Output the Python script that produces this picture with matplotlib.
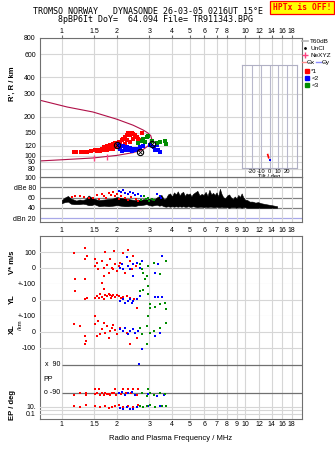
import matplotlib
matplotlib.use('Agg')
import matplotlib.pyplot as plt
from matplotlib.lines import Line2D

plt.rcParams['font.family'] = ['Liberation Sans', 'DejaVu Sans']

W, H = 335, 451

# frequency ticks
top_ticks = [1, 1.5, 2, 3, 4, 5, 6, 7, 8, 10, 12, 14, 16, 18]
mid_ticks = [1, 1.5, 2, 3, 4, 5, 6, 7, 8, 9, 10, 12, 14, 16, 18]

# model trace (virtual / real height), upper branch then back along lower branch
model_f = [0.76, 1.07, 1.48, 2.0, 2.45, 2.78, 2.95, 3.06, 3.10, 3.06, 2.95, 2.78, 2.45, 2.0, 1.48, 1.0, 0.76]
model_r = [267, 237, 217, 191, 172, 158, 150, 143, 134, 126, 119, 112, 106, 101, 96.5, 93.5, 91.6]

# echoes, range panel
r1_f = [1.16, 1.2, 1.27, 1.34, 1.37, 1.52, 1.58, 1.62, 1.65, 1.69, 1.72, 1.76, 1.76, 1.84, 1.91,
        1.91, 1.95, 2.0, 2.04, 2.08, 2.13, 2.13, 2.17, 2.22, 2.22, 2.26, 2.26, 2.31, 2.36, 2.36,
        2.41, 2.44, 2.46, 2.52, 2.57, 2.62, 2.68, 2.73, 1.45, 1.55, 1.7, 1.8, 1.88, 2.02]
r1_r = [107, 108, 108, 108, 107, 111, 112, 110, 114, 118, 116, 119, 112, 121, 123,
        114, 126, 118, 129, 125, 132, 119, 136, 140, 123, 145, 132, 149, 145, 129,
        150, 136, 147, 145, 140, 136, 132, 150, 109, 110, 111, 113, 116, 124]
r2_f = [2.04, 2.08, 2.13, 2.17, 2.22, 2.26, 2.31, 2.36, 2.41, 2.46, 2.52, 2.57, 2.68, 2.79, 3.04, 3.17, 3.24, 3.3, 3.37, 3.45]
r2_r = [121, 114, 110, 119, 112, 118, 111, 116, 110, 114, 111, 114, 118, 119, 121, 118, 112, 121, 111, 108]
r3_f = [2.62, 2.73, 2.79, 2.85, 2.91, 2.97, 3.1, 3.3, 3.45, 3.67, 3.71]
r3_r = [125, 131, 136, 129, 140, 142, 131, 126, 129, 131, 123]
ne_f = [1.5, 1.76]
ne_r = [96, 99]
cen_f = [2.0, 2.68, 3.1]
cen_r = [121, 108, 123]

# amplitude trace
sig_f = [1.0, 1.04, 1.08, 1.12, 1.16, 1.2, 1.25, 1.3, 1.35, 1.4,
         1.45, 1.5, 1.55, 1.6, 1.7, 1.8, 1.9, 2.0, 2.1, 2.2,
         2.3, 2.4, 2.5, 2.6, 2.7, 2.8, 2.9, 3.0, 3.1, 3.2,
         3.3, 3.4, 3.5, 3.6, 3.7, 3.8, 3.9, 4.0, 4.1, 4.2,
         4.3, 4.4, 4.5, 4.6, 4.7, 4.8, 4.9, 5.0, 5.1, 5.2,
         5.35, 5.5, 5.65, 5.8, 5.95, 6.1, 6.25, 6.4, 6.55, 6.7,
         6.85, 7.0, 7.15, 7.3, 7.45, 7.6, 7.8, 8.0, 8.2, 8.4,
         8.6, 8.8, 9.0, 9.2, 9.4, 9.6, 9.8, 10.0, 10.3, 10.6,
         11.0, 11.4, 11.8, 12.2, 12.6, 13.0, 13.5, 14.0, 14.5, 15.0]
sig_top = [55, 60, 63, 58, 56, 54, 56, 55, 57, 64,
           60, 58, 56, 55, 56, 57, 58, 61, 59, 58,
           57, 56, 55, 56, 55, 57, 56, 58, 55, 56,
           60, 63, 65, 57, 58, 66, 68, 62, 70, 66,
           72, 64, 69, 71, 63, 68, 66, 68, 62, 67,
           70, 73, 64, 67, 65, 71, 63, 75, 66, 69,
           65, 70, 62, 77, 67, 61, 58, 64, 66, 60,
           57, 62, 58, 65, 61, 68, 60, 56, 55, 52,
           52, 50, 51, 49, 48, 47, 46, 45, 44, 43]
sig_bot = [49, 51, 52, 48, 47, 47, 47, 48, 47, 45,
           45, 47, 45, 43, 44, 43, 44, 45, 44, 43,
           43, 44, 43, 45, 45, 46, 47, 45, 44, 45,
           46, 44, 45, 43, 42, 43, 42, 43, 42, 43,
           42, 43, 42, 43, 42, 42, 43, 42, 42, 43,
           42, 41, 42, 42, 41, 42, 41, 42, 42, 41,
           41, 42, 41, 41, 42, 41, 41, 41, 40, 41,
           41, 41, 40, 41, 41, 40, 41, 41, 40, 40,
           40, 40, 40, 40, 40, 40, 40, 40, 40, 40]

db1_f = [1.13, 1.18, 1.25, 1.32, 1.40, 1.48, 1.55, 1.60, 1.65, 1.70, 1.75, 1.80, 1.85, 1.90, 1.95, 2.0, 2.05, 2.1, 2.2, 2.3, 2.4, 2.55, 2.6]
db1_a = [61, 62, 62, 61, 60, 60, 64, 58, 66, 62, 59, 68, 64, 70, 62, 67, 58, 63, 59, 55, 61, 57, 53]
db2_f = [2.05, 2.1, 2.15, 2.2, 2.3, 2.35, 2.45, 2.5, 2.6, 2.7, 3.3, 3.45, 3.5]
db2_a = [72, 70, 74, 68, 66, 71, 69, 64, 66, 62, 66, 63, 60]
db3_f = [2.7, 2.8, 2.9, 2.95, 3.0, 3.1, 3.2]
db3_a = [56, 62, 58, 60, 54, 57, 56]

# V* (m/s)
v1_f = [1.17, 1.34, 1.34, 1.37, 1.18, 1.34, 1.52, 1.52, 1.55, 1.58, 1.65, 1.69, 1.72, 1.76, 1.80, 1.84,
        1.88, 1.91, 1.93, 1.95, 2.0, 2.04, 2.08, 2.17, 2.22, 2.31, 2.36, 2.41, 2.46, 2.55, 1.69, 1.65]
v1 = [96, 127, 54, 75, -67, -67, 54, 12, 33, -8, 44, 2, 100, 17, -29, 54,
      2, -8, 106, 23, -19, 12, 33, 96, -29, 112, 44, -8, 75, 12, -50, -92]
v2_f = [2.08, 2.13, 2.17, 2.26, 2.31, 2.36, 2.44, 2.46, 2.57, 2.68, 2.73, 3.24, 3.37, 3.52]
v2 = [2, 23, -8, 71, 12, -8, 23, -50, 33, 2, 44, -29, 23, 75]
v3_f = [2.68, 2.73, 2.79, 2.91, 2.97, 3.17, 3.45, 3.71, 2.85]
v3 = [23, -8, -29, -50, 12, 33, -40, 44, -71]

# YL, XL (km)
yl1_f = [1.18, 1.34, 1.37, 1.52, 1.55, 1.62, 1.65, 1.69, 1.72, 1.76, 1.80, 1.84, 1.88, 1.91, 1.95,
         2.0, 2.04, 2.17, 2.26, 2.36, 2.49, 2.59, 1.60, 1.70, 1.85, 2.10]
yl1 = [56, 4, 15, 15, 25, 35, 21, 67, 29, 25, 35, 29, 25, 33, 21,
       29, 25, 21, 25, 15, 8, -48, 10, 8, 12, 10]
yl2_f = [2.08, 2.17, 2.22, 2.31, 2.36, 2.41, 2.46, 2.57, 2.68, 3.24, 3.37, 3.52]
yl2 = [-6, 4, -17, -6, 4, -17, -6, 4, 25, 21, 21, 21]
yl3_f = [2.68, 2.79, 2.95, 2.97, 3.04, 3.04, 3.24, 3.45, 3.67, 3.71]
yl3 = [56, 62, 88, 35, -27, -48, -42, -27, -17, -54]

xl1_f = [1.17, 1.26, 1.34, 1.36, 1.34, 1.52, 1.52, 1.55, 1.58, 1.62, 1.65, 1.69, 1.72, 1.76, 1.80,
         1.84, 1.88, 1.91, 1.95, 2.0, 2.08, 2.26, 2.36, 2.57, 2.73]
xl1 = [48, 38, -25, -56, -77, 100, 48, -25, 69, -15, 21, 58, -4, 38, -35,
       6, 27, 42, 13, -15, 27, -4, -77, -35, -108]
xl2_f = [2.08, 2.17, 2.22, 2.31, 2.36, 2.46, 2.52, 2.62, 3.24, 3.45, 2.73]
xl2 = [17, 6, 27, -15, 6, 17, -4, 6, -25, -4, -106]
xl3_f = [2.68, 2.73, 2.91, 2.95, 3.04, 3.17, 3.45, 3.71, 2.91]
xl3 = [27, -15, 38, 100, -4, 6, 27, 54, -77]

# polarisation PP and EP (deg)
pp1_f = [1.17, 1.26, 1.36, 1.36, 1.52, 1.52, 1.60, 1.62, 1.69, 1.72, 1.80, 1.84, 1.88, 1.95,
         1.98, 2.17, 2.31, 2.46, 2.57, 2.62, 1.56, 1.66, 1.76, 1.92, 2.05, 2.1, 2.25, 2.4]
pp1 = [-103, -92, -88, -103, -66, -96, -66, -103, -103, -88, -99, -103, -88, -66,
       -103, -66, -66, -66, -103, -66, -92, -90, -94, -92, -88, -95, -90, -93]
pp2_f = [2.04, 2.13, 2.22, 2.31, 2.41, 2.52, 2.97, 3.3, 3.6, 2.65]
pp2 = [-92, -82, -103, -92, -82, -103, -96, -111, -103, 95]
pp3_f = [2.73, 2.97, 3.04, 3.17, 3.45, 3.67, 2.91]
pp3 = [-92, -66, -88, -103, -92, -96, -107]

ep1_f = [1.17, 1.26, 1.36, 1.52, 1.62, 1.72, 1.8, 1.88, 1.95, 2.04, 2.17, 2.31, 2.46, 2.62]
ep1 = [19, 8, 37, 19, 8, 19, 4, 8, 19, 37, 8, 19, 8, 37]
ep2_f = [2.08, 2.17, 2.26, 2.36, 2.46, 2.57, 2.97, 3.24, 3.45]
ep2 = [4, 2, 8, 3, 2, 8, 19, 8, 19]
ep3_f = [2.68, 2.79, 2.91, 3.04, 3.24, 3.52, 3.71]
ep3 = [19, 8, 19, 37, 8, 19, 19]

# tilt inset
tilt1_x = [-2, -1]
tilt1_y = [13, 10]
tilt2_x = [0.5]
tilt2_y = [8]

RED, BLUE, GREEN = '#ff0000', '#0000ff', '#008c00'
GRID = '#d6d6d6'
FRAME = '#707070'
FS = 5


def box(x0, y0, x1, y1):
    return [x0 / W, 1 - y1 / H, (x1 - x0) / W, (y1 - y0) / H]


def freq_axis(ax, ticks, where='bottom', grid=True, pad=2):
    ax.set_xscale('log')
    ax.set_xlim(0.76, 20.5)
    ax.set_xticks(ticks)
    ax.set_xticklabels([str(t) for t in ticks])
    ax.minorticks_off()
    ax.tick_params(axis='x', labelsize=FS, length=0, pad=pad)
    if where == 'top':
        ax.xaxis.tick_top()
        ax.tick_params(axis='x', length=2, direction='out', color=FRAME, pad=0.5)
    if grid:
        ax.grid(axis='x', color=GRID, lw=0.8)
    ax.tick_params(axis='y', labelsize=FS, length=0, pad=3)
    for s in ax.spines.values():
        s.set_color(FRAME)
        s.set_linewidth(0.8)


def dots(ax, f, y, c, ms=1.8):
    ax.plot(f, y, 's', color=c, ms=ms, mew=0, ls='none', clip_on=False, zorder=4)


fig = plt.figure(figsize=(W / 100, H / 100), dpi=100)

# ---------- range panel
ax_r = fig.add_axes(box(40, 38, 302, 177))
freq_axis(ax_r, top_ticks, where='top')
ax_r.set_yscale('log')
ax_r.set_ylim(69, 800)
r_ticks = [80, 90, 100, 120, 150, 200, 300, 400, 600, 800]
ax_r.set_yticks(r_ticks)
ax_r.set_yticklabels([str(t) for t in r_ticks])
ax_r.minorticks_off()
ax_r.grid(axis='y', color=GRID, lw=0.8)
ax_r.plot(model_f, model_r, color='#b01048', lw=0.8)
dots(ax_r, r1_f, r1_r, RED, 2.2)
dots(ax_r, r2_f, r2_r, BLUE, 2.2)
dots(ax_r, r3_f, r3_r, GREEN, 2.2)
ax_r.plot(ne_f, ne_r, ls='none', marker=r'$\mathrm{I}$', color='#ff4080', ms=4)
ax_r.plot(cen_f, cen_r, 'o', mfc='none', mec='k', ms=4.5, mew=0.8, zorder=5)
ax_r.plot(cen_f, cen_r, 'x', color='k', ms=2.5, mew=0.6, zorder=5)

# tilt inset
ax_t = fig.add_axes(box(242, 65, 297, 168))
ax_t.patch.set_alpha(0)
ax_t.set_xlim(-31.5, 31.5)
ax_t.set_ylim(0, 100)
ax_t.set_xticks([-20, -10, 0, 10, 20])
ax_t.set_xticklabels(['-20', '-10', '0', '10', '20'])
ax_t.set_yticks([])
ax_t.grid(axis='x', color='#b8b8cc', lw=0.8)
ax_t.tick_params(axis='x', labelsize=4.2, length=0, pad=1)
ax_t.set_xlabel('Tilt / deg', fontsize=4.2, labelpad=0)
for s in ax_t.spines.values():
    s.set_color('#b0b0c4')
    s.set_linewidth(0.8)
ax_t.plot(tilt1_x, tilt1_y, color=RED, lw=1.2)
ax_t.plot(tilt2_x, tilt2_y, 's', color=BLUE, ms=1.8, mew=0)

# ---------- amplitude panel
ax_db = fig.add_axes(box(40, 177, 302, 222))
freq_axis(ax_db, mid_ticks, pad=3.5)
ax_db.set_ylim(12.2, 100)
db_ticks = [20, 40, 60, 80, 100]
ax_db.set_yticks(db_ticks)
ax_db.set_yticklabels(['dBn 20', '40', '60', 'dBe 80', '100'])
for v in db_ticks:
    ax_db.axhline(v, color='#a8a8e8' if v == 20 else '#808080', lw=0.9, zorder=1)
ax_db.fill_between(sig_f, sig_bot, sig_top, color='k', lw=0.4, zorder=2)
dots(ax_db, db1_f, db1_a, RED)
dots(ax_db, db2_f, db2_a, BLUE)
dots(ax_db, db3_f, db3_a, GREEN)

# ---------- lower panel frame
ax_low = fig.add_axes(box(40, 236, 302, 419))
freq_axis(ax_low, mid_ticks, pad=1.5)
ax_low.set_yticks([])
ax_low.set_xlabel('Radio and Plasma Frequency / MHz', fontsize=5.5, labelpad=5)


def sub_axes(y0, y1, lo, hi, ticks, labels, log=False):
    ax = fig.add_axes(box(40, y0, 302, y1), sharex=ax_low)
    ax.patch.set_alpha(0)
    if log:
        ax.set_yscale('log')
    ax.set_ylim(lo, hi)
    ax.set_yticks(ticks)
    ax.set_yticklabels(labels)
    ax.minorticks_off()
    ax.tick_params(axis='x', bottom=False, labelbottom=False)
    ax.tick_params(axis='y', labelsize=FS, length=0, pad=3)
    for s in ax.spines.values():
        s.set_visible(False)
    for t in ticks:
        ax.axhline(t, color=GRID, lw=0.8, zorder=0)
    return ax


ax_v = sub_axes(236, 284, -100, 200, [-100, 0, 100], ['+-100', '0', '100'])
dots(ax_v, v1_f, v1, RED)
dots(ax_v, v2_f, v2, BLUE)
dots(ax_v, v3_f, v3, GREEN)

ax_yl = sub_axes(284, 316, -100, 100, [-100, 0], ['+-100', '0'])
dots(ax_yl, yl1_f, yl1, RED)
dots(ax_yl, yl2_f, yl2, BLUE)
dots(ax_yl, yl3_f, yl3, GREEN)

ax_xl = sub_axes(316, 355, -143.75, 100, [-100, 0], ['-100', '0'])
dots(ax_xl, xl1_f, xl1, RED)
dots(ax_xl, xl2_f, xl2, BLUE)
dots(ax_xl, xl3_f, xl3, GREEN)

ax_pp = sub_axes(355, 400, -135, 154, [], [])
ax_pp.hlines([90, -90], 1.0, 20.5, color='#707070', lw=0.9)
ax_pp.text(0.98, 90, 'x  90', fontsize=FS, ha='right', va='center')
ax_pp.text(0.98, -90, 'o -90', fontsize=FS, ha='right', va='center')
ax_pp.text(0.79, -6, 'PP', fontsize=FS, ha='left', va='center')
dots(ax_pp, pp1_f, pp1, RED)
dots(ax_pp, pp2_f, pp2, BLUE)
dots(ax_pp, pp3_f, pp3, GREEN)

ax_ep = sub_axes(400, 419, 0.0037, 1000, [0.1, 1, 10], ['0.1', '', '10.'], log=True)
dots(ax_ep, ep1_f, ep1, RED)
dots(ax_ep, ep2_f, ep2, BLUE)
dots(ax_ep, ep3_f, ep3, GREEN)

# ---------- axis titles
lab = dict(rotation=90, fontsize=5.5, fontweight='bold', ha='center', va='center')
fig.text(12 / W, 1 - 84 / H, "R', R / km", **lab)
fig.text(12 / W, 1 - 262 / H, 'V* m/s', **lab)
fig.text(12 / W, 1 - 299 / H, 'YL', **lab)
fig.text(20 / W, 1 - 325 / H, '/km', rotation=90, fontsize=4.3, ha='center', va='center')
fig.text(12 / W, 1 - 329 / H, 'XL', **lab)
fig.text(12 / W, 1 - 405 / H, 'EP / deg', **lab)

# ---------- header
mono = 'DejaVu Sans Mono'
fig.text(148 / W, 1 - 12 / H, 'TROMSO NORWAY   DYNASONDE 26-03-05 0216UT 15°E',
         family=mono, fontsize=6.0, ha='center', va='center')
fig.text(156 / W, 1 - 20 / H, '8pBP6It DoY=  64.094 File= TR911343.BPG',
         family=mono, fontsize=6.0, ha='center', va='center')
fig.text(302 / W, 1 - 7.5 / H, 'HPTx is OFF!', family=mono, fontsize=5.8, fontweight='bold',
         color='red', ha='center', va='center',
         bbox=dict(facecolor='#ffff00', edgecolor='red', pad=1.6, lw=0.9))

# ---------- legends
leg_kw = dict(frameon=False, fontsize=4.6, borderaxespad=0, borderpad=0,
              labelspacing=0.2, loc='upper left')
h1 = [Line2D([], [], color='#b4b4b4', lw=1.2),
      Line2D([], [], color='k', marker='.', ms=2, ls='none'),
      Line2D([], [], color='#ff4080', marker='+', ms=4, ls='none')]
fig.legend(h1, ['T60dB', 'UnCl', 'NeXYZ'], bbox_to_anchor=(302 / W, 1 - 39 / H),
           handlelength=1.0, handletextpad=0.3, **leg_kw)
h2 = [Line2D([], [], color='#ff8c8c', lw=1), Line2D([], [], color='#8c8cff', lw=1)]
fig.legend(h2, ['Θx', 'Θy'], bbox_to_anchor=(302 / W, 1 - 60 / H), ncol=2,
           handlelength=0.7, handletextpad=0.1, columnspacing=0.15, **leg_kw)
h3 = [Line2D([], [], color=c, marker='s', ms=2.2, ls='none') for c in (RED, BLUE, GREEN)]
fig.legend(h3, ['*1', '<2', '<3'], bbox_to_anchor=(305 / W, 1 - 69 / H),
           handlelength=0.6, handletextpad=0.4, **leg_kw)

fig.savefig('out.png', dpi=100)
